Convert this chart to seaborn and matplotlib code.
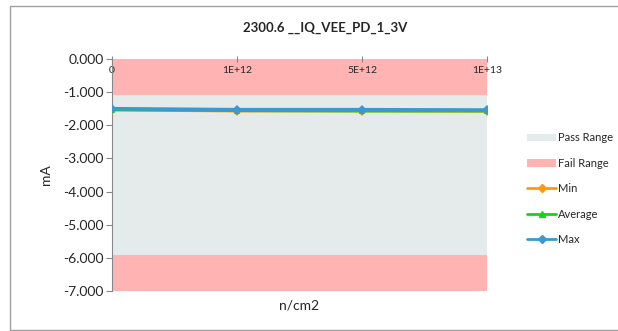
import matplotlib
matplotlib.use("Agg")
import matplotlib.pyplot as plt
from matplotlib.patches import Patch, Rectangle
from matplotlib.lines import Line2D
import seaborn as sns
import pandas as pd

# Radiation fluence steps and measured current (mA)
fluence = ["0", "1E+12", "5E+12", "1E+13"]
min_vals = [-1.54, -1.57, -1.57, -1.58]
avg_vals = [-1.53, -1.56, -1.57, -1.57]
max_vals = [-1.50, -1.53, -1.53, -1.54]

# Limits
lower_limit = -5.9
upper_limit = -1.1
y_min, y_max = -7.0, 0.0

title = "2300.6 __IQ_VEE_PD_1_3V"

sns.set_theme(style="white")
plt.rcParams["font.family"] = ["Lato", "DejaVu Sans"]

pass_color = "#e5eaea"
fail_color = "#ffb3b3"
colors = {"Min": "#ff9a0a", "Average": "#10d810", "Max": "#3a9ad0"}
markers = {"Min": "D", "Average": "^", "Max": "D"}

df = pd.DataFrame({
    "idx": list(range(len(fluence))) * 3,
    "value": min_vals + avg_vals + max_vals,
    "series": ["Min"] * 4 + ["Average"] * 4 + ["Max"] * 4,
})

fig = plt.figure(figsize=(6.18, 3.31), dpi=100)
ax = fig.add_axes([112 / 618, 1 - 291 / 331, 375 / 618, 232 / 331])

# Pass / fail bands
ax.axhspan(upper_limit, y_max, color=fail_color, lw=0, zorder=0)
ax.axhspan(lower_limit, upper_limit, color=pass_color, lw=0, zorder=0)
ax.axhspan(y_min, lower_limit, color=fail_color, lw=0, zorder=0)

widths = {"Min": 2.0, "Average": 2.0, "Max": 2.6}
for name in ["Min", "Average", "Max"]:
    sub = df[df["series"] == name]
    sns.lineplot(data=sub, x="idx", y="value", ax=ax, color=colors[name],
                 marker=markers[name], markersize=5, markeredgewidth=0,
                 lw=widths[name], sort=False, legend=False, zorder=3)

ax.set_xlim(0, len(fluence) - 1)
ax.set_ylim(y_min, y_max)
ax.set_yticks([-7, -6, -5, -4, -3, -2, -1, 0])
ax.set_yticklabels([f"{v:.3f}" for v in [-7, -6, -5, -4, -3, -2, -1, 0]], fontsize=10)

ax.set_xticks(range(len(fluence)))
ax.set_xticklabels(fluence, fontsize=7.5)
ax.tick_params(axis="x", top=True, bottom=False, labeltop=True, labelbottom=False,
               direction="inout", length=5, width=0.8, color="#888888", pad=-14)
ax.tick_params(axis="y", left=True, direction="out", length=4, width=0.8,
               color="#888888", pad=2)

for side in ["top", "right", "bottom"]:
    ax.spines[side].set_visible(False)
ax.spines["left"].set_color("#888888")
ax.spines["left"].set_linewidth(0.8)

ax.set_xlabel("n/cm2", fontsize=10, labelpad=6)
ax.xaxis.set_label_position("bottom")
ax.set_ylabel("mA", fontsize=10, labelpad=8)
ax.grid(False)

fig.text(325 / 618, 1 - 28 / 331, title, ha="center",
         va="center", fontsize=9.5, fontweight="bold")

handles = [
    Patch(facecolor=pass_color, edgecolor="none", label="Pass Range"),
    Patch(facecolor=fail_color, edgecolor="none", label="Fail Range"),
    Line2D([], [], color=colors["Min"], marker="D", markersize=4, lw=2, label="Min"),
    Line2D([], [], color=colors["Average"], marker="^", markersize=4, lw=2, label="Average"),
    Line2D([], [], color=colors["Max"], marker="D", markersize=4, lw=2, label="Max"),
]
fig.legend(handles=handles, loc="upper left", bbox_to_anchor=(523 / 618, 1 - 128 / 331),
           frameon=False, fontsize=8, handlelength=2.6, handletextpad=0.15,
           labelspacing=1.3, borderaxespad=0)

fig.patches.append(Rectangle((10 / 618, 1 / 331), 640 / 618, 324 / 331,
                             transform=fig.transFigure, fill=False,
                             edgecolor="#a0a0a0", lw=1.0))

fig.savefig("out.png", dpi=100)
